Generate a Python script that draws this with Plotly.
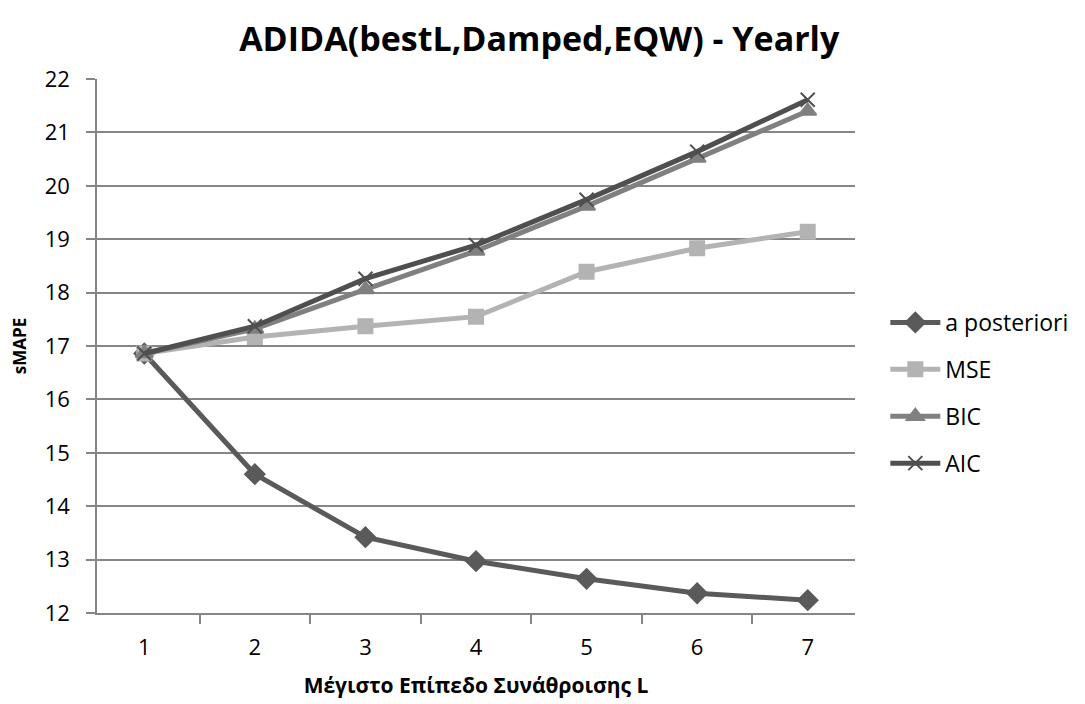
import plotly.graph_objects as go

levels = ["1", "2", "3", "4", "5", "6", "7"]
a_posteriori = [16.86, 14.60, 13.42, 12.97, 12.64, 12.37, 12.24]
mse = [16.86, 17.17, 17.37, 17.55, 18.39, 18.83, 19.14]
bic = [16.86, 17.32, 18.06, 18.78, 19.62, 20.52, 21.40]
aic = [16.86, 17.37, 18.26, 18.89, 19.74, 20.64, 21.61]

FONT = "Open Sans"
GRID = "#868686"

series = [
    ("a posteriori", a_posteriori, "#5a5a5a", "diamond", 15),
    ("MSE", mse, "#b3b3b3", "square", 14),
    ("BIC", bic, "#808080", "triangle-up", 15),
    ("AIC", aic, "#4f4f4f", "x-thin", 14),
]

fig = go.Figure()
for name, vals, color, sym, size in series:
    fig.add_trace(go.Scatter(
        x=levels, y=vals, name=name, mode="lines+markers",
        legendgroup=name,
        line=dict(color=color, width=5),
        marker=dict(symbol=sym, size=size, color=color,
                    line=dict(color=color, width=2)),
    ))

fig.update_layout(
    width=1085, height=704,
    margin=dict(l=97, r=230, t=79, b=91),
    paper_bgcolor="white", plot_bgcolor="white",
    font=dict(family=FONT, size=22, color="#000000"),
    title=dict(text="<b>ADIDA(bestL,Damped,EQW) - Yearly</b>",
               x=0.497, xanchor="center", y=0.945, yanchor="middle",
               font=dict(size=34, family=FONT)),
    showlegend=True,
    legend=dict(x=1.04, y=0.412, xanchor="left", yanchor="middle",
                tracegroupgap=14, itemwidth=50,
                font=dict(size=23, family=FONT)),
    xaxis=dict(
        type="category", tickson="boundaries", ticks="outside",
        automargin=False,
        ticklen=9, tickcolor=GRID, tickwidth=1.5,
        ticklabelstandoff=14,
        showline=True, linecolor=GRID, linewidth=1.5,
        showgrid=False, mirror=False,
        tickfont=dict(size=22, family=FONT),
        title=dict(text="<b>Μέγιστο Επίπεδο Συνάθροισης L</b>",
                   font=dict(size=21, family=FONT), standoff=18),
    ),
    yaxis=dict(
        range=[12, 22], dtick=1, tick0=12,
        automargin=False,
        ticks="outside", ticklen=9, tickcolor=GRID, tickwidth=1.5,
        ticklabelstandoff=12,
        showline=True, linecolor=GRID, linewidth=1.5,
        showgrid=True, gridcolor=GRID, gridwidth=1.5,
        zeroline=False,
        tickfont=dict(size=22, family=FONT),
        title=dict(text="<b>sMAPE</b>", font=dict(size=17, family=FONT),
                   standoff=14),
    ),
)

fig.write_html("out.html")
